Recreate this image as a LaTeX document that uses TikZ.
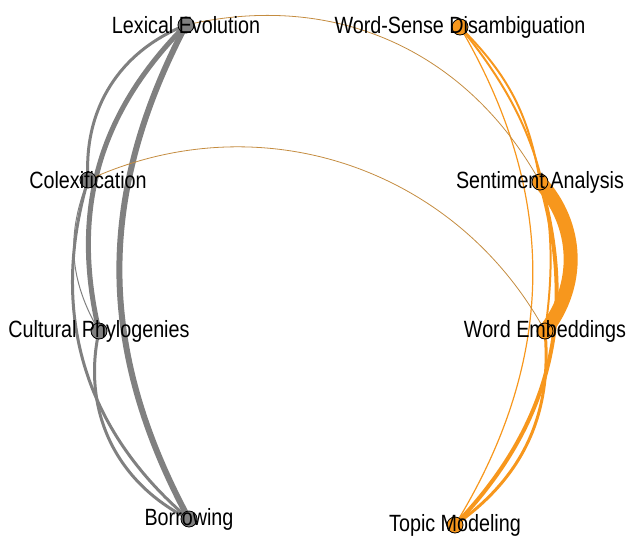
\documentclass[tikz,border=0pt]{standalone}
\usepackage{fontspec}
\setmainfont{Liberation Sans}[FakeStretch=0.84]
\usetikzlibrary{positioning}
\definecolor{grey}{RGB}{128,128,128}
\definecolor{orange}{RGB}{247,151,29}
\definecolor{mixed}{RGB}{196,140,64}

\begin{document}
\begin{tikzpicture}[x=1pt,y=-1pt,
  gedge/.style={draw=grey},
  oedge/.style={draw=orange},
  xedge/.style={draw=mixed, line width=0.8pt},
  gdot/.style={circle, draw=black, fill=grey, minimum size=16pt, inner sep=0pt, line width=0.8pt},
  odot/.style={circle, draw=black, fill=orange, minimum size=16pt, inner sep=0pt, line width=0.8pt},
  lbl/.style={font=\fontsize{23.5}{24}\selectfont, inner sep=0pt, text=black}]
\useasboundingbox (0,0) rectangle (626,536);

% node positions
\coordinate (lex) at (186,25);
\coordinate (colex) at (88,180);
\coordinate (phylo) at (99,331);
\coordinate (borrow) at (189,519);
\coordinate (wsd) at (460,27);
\coordinate (senti) at (540,182);
\coordinate (embed) at (545,331);
\coordinate (topic) at (455,525);

% grey edges
\draw [gedge, line width=3pt] (lex) to [bend right=36] (colex);
\draw [gedge, line width=5pt] (lex) to [bend right=29] (phylo);
\draw [gedge, line width=6pt] (lex) to [bend right=28] (borrow);
\draw [gedge, line width=1pt] (colex) to [bend right=26] (phylo);
\draw [gedge, line width=3pt] (colex) to [bend right=33] (borrow);
\draw [gedge, line width=3pt] (phylo) to [bend right=38] (borrow);

% orange edges
\draw [oedge, line width=2pt] (wsd) to [bend left=18] (senti);
\draw [oedge, line width=2pt] (wsd) to [bend left=24] (embed);
\draw [oedge, line width=1.2pt] (wsd) to [bend left=31] (topic);
\draw [oedge, line width=14pt] (senti) to [bend left=40] (embed);
\draw [oedge, line width=4pt] (senti) to [bend left=30] (topic);
\draw [oedge, line width=3pt] (embed) to [bend left=30] (topic);

% mixed edges
\draw [xedge] (lex) to [bend left=37] (senti);
\draw [xedge] (colex) to [bend left=43] (embed);

% dots
\node [gdot] (lex-dot) at (lex) {};
\node [gdot] (colex-dot) at (colex) {};
\node [gdot] (phylo-dot) at (phylo) {};
\node [gdot] (borrow-dot) at (borrow) {};
\node [odot] (wsd-dot) at (wsd) {};
\node [odot] (senti-dot) at (senti) {};
\node [odot] (embed-dot) at (embed) {};
\node [odot] (topic-dot) at (topic) {};

% labels
\node [lbl] (lex-lbl) at (lex) {Lexical Evolution};
\node [lbl] (colex-lbl) at (colex) {Colexification};
\node [lbl] (phylo-lbl) at (phylo) {Cultural Phylogenies};
\node [lbl] (borrow-lbl) at (borrow) {Borrowing};
\node [lbl] (wsd-lbl) at (wsd) {Word-Sense Disambiguation};
\node [lbl] (senti-lbl) at (senti) {Sentiment Analysis};
\node [lbl] (embed-lbl) at (embed) {Word Embeddings};
\node [lbl] (topic-lbl) at (topic) {Topic Modeling};
\end{tikzpicture}
\end{document}
